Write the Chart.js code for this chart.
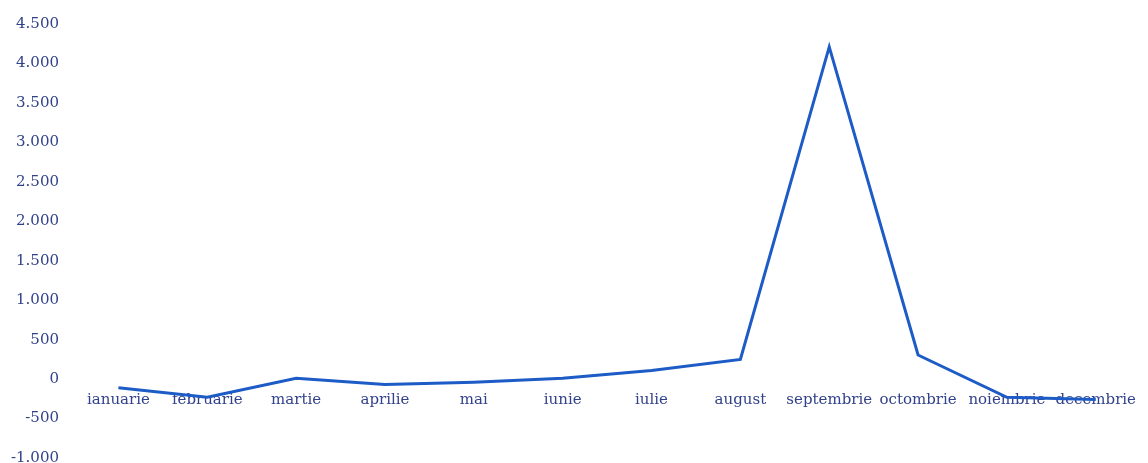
<!DOCTYPE html>
<html>
<head>
<meta charset="utf-8">
<script src="https://cdn.jsdelivr.net/npm/chart.js@4/dist/chart.umd.min.js"></script>
<style>
  html, body { margin: 0; padding: 0; background: #fff; overflow: hidden; }
  /* mai inalt decat fereastra: jos ramane un spatiu rezervat de Chart.js */
  #wrap { width: 1148px; height: 482px; position: relative; }
</style>
</head>
<body>
<div id="wrap"><canvas id="grafic"></canvas></div>
<script>
// Date
const luni = ['ianuarie', 'februarie', 'martie', 'aprilie', 'mai', 'iunie',
              'iulie', 'august', 'septembrie', 'octombrie', 'noiembrie', 'decembrie'];
const valori = [-110, -230, 10, -70, -40, 10, 110, 250, 4210, 305, -230, -260];
const axaMin = -1000;
const axaMax = 4500;
const pas = 500;

const culoareText = '#32428a';
const culoareLinie = '#1d5cc6';

// 1000 -> "1.000" (separator romanesc)
function formatNumar(v) {
    const semn = v < 0 ? '-' : '';
    return semn + String(Math.abs(v)).replace(/\B(?=(\d{3})+(?!\d))/g, '.');
}

document.addEventListener('DOMContentLoaded', () => {
    const ctx = document.getElementById('grafic').getContext('2d');
    new Chart(ctx, {
        type: 'line',
        data: {
            labels: luni,
            datasets: [{
                data: valori,
                borderColor: culoareLinie,
                borderWidth: 3,
                pointRadius: 0,
                tension: 0,
                fill: false
            }]
        },
        options: {
            responsive: true,
            maintainAspectRatio: false,
            animation: false,
            layout: { padding: { top: 21, bottom: 7, left: 0, right: 0 } },
            plugins: {
                legend: { display: false },
                tooltip: { enabled: false }
            },
            scales: {
                x: {
                    position: { y: 0 },
                    offset: true,
                    grid: { display: false, drawTicks: false },
                    border: { display: false },
                    ticks: {
                        color: culoareText,
                        font: { family: 'DejaVu Serif', size: 15 },
                        padding: 12,
                        maxRotation: 0,
                        autoSkip: false
                    }
                },
                y: {
                    min: axaMin,
                    max: axaMax,
                    grid: { display: false, drawTicks: false },
                    border: { display: false },
                    afterFit: (axa) => { axa.width = 74; },
                    ticks: {
                        stepSize: pas,
                        color: culoareText,
                        font: { family: 'DejaVu Serif', size: 15 },
                        padding: 15,
                        callback: (v) => formatNumar(v)
                    }
                }
            }
        }
    });
});
</script>
</body>
</html>
